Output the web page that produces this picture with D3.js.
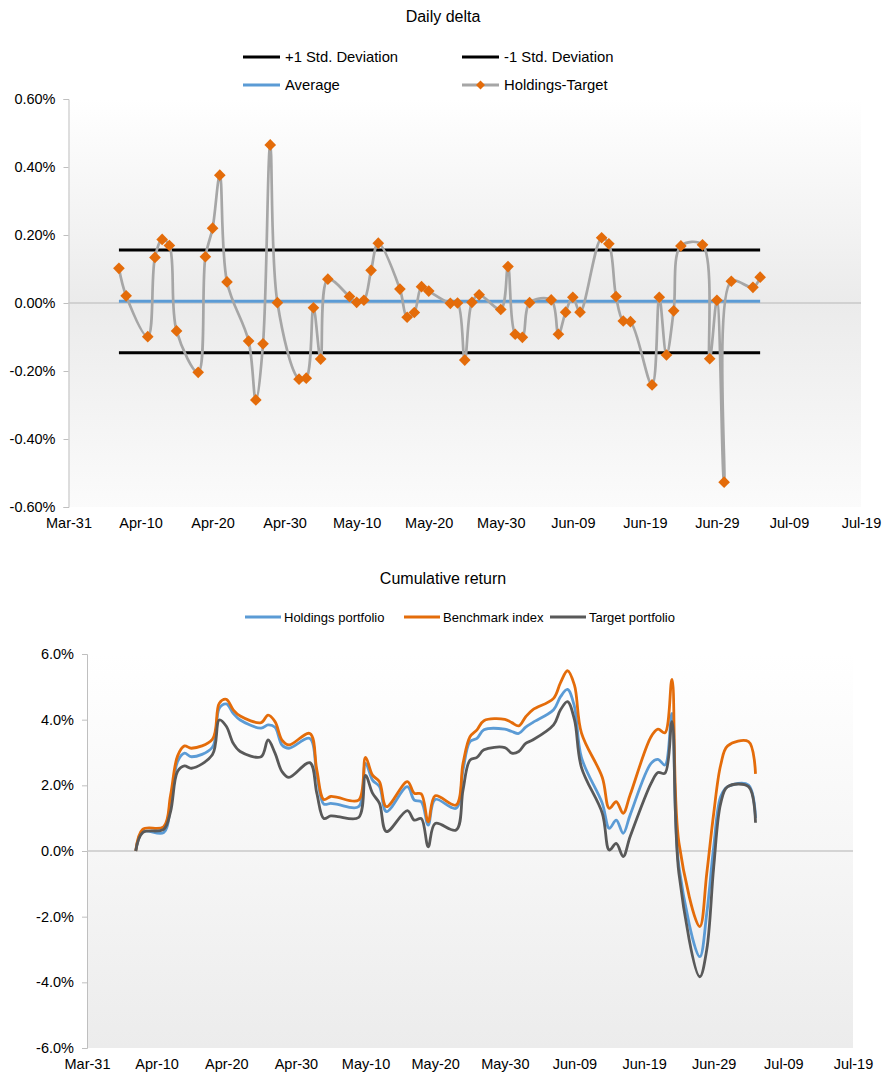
<!DOCTYPE html>
<html>
<head>
<meta charset="utf-8">
<script src="https://cdn.jsdelivr.net/npm/d3@7"></script>
<style>
  body { margin: 0; background: #fff; }
  svg { font-family: "Liberation Sans", Arial, sans-serif; }
</style>
</head>
<body>
<svg id="chart" width="887" height="1076"></svg>
<script>
// trading days (2016)
const days = [
  '04-07','04-08','04-11','04-12','04-13','04-14','04-15','04-18','04-19','04-20','04-21','04-22',
  '04-25','04-26','04-27','04-28','04-29','05-02','05-03','05-04','05-05','05-06','05-09','05-10',
  '05-11','05-12','05-13','05-16','05-17','05-18','05-19','05-20','05-23','05-24','05-25','05-26',
  '05-27','05-30','05-31','06-01','06-02','06-03','06-06','06-07','06-08','06-09','06-10','06-13',
  '06-14','06-15','06-16','06-17','06-20','06-21','06-22','06-23','06-24','06-27','06-28','06-29',
  '06-30','07-01','07-04','07-05'
];

// daily delta, Holdings-Target (%)
const delta = [
  0.102, 0.021, -0.099, 0.134, 0.187, 0.169, -0.082, -0.204, 0.136, 0.220, 0.376, 0.062,
  -0.112, -0.285, -0.120, 0.465, 0.001, -0.224, -0.221, -0.014, -0.165, 0.070, 0.019, 0.002,
  0.008, 0.096, 0.176, 0.041, -0.042, -0.028, 0.048, 0.035, -0.001, 0.000, -0.168, 0.002,
  0.024, -0.019, 0.107, -0.092, -0.101, 0.001, 0.009, -0.092, -0.027, 0.017, -0.027, 0.192,
  0.174, 0.019, -0.053, -0.055, -0.241, 0.017, -0.153, -0.023, 0.168, 0.171, -0.164, 0.008,
  -0.527, 0.064, 0.046, 0.076
];
const average = 0.005;
const stdPlus = 0.156;
const stdMinus = -0.146;

// cumulative return (%)
const holdings = [
  0, 0.59, 0.56, 1.4, 2.72, 2.98, 2.87, 3.16, 4.35, 4.48, 4.19, 3.99,
  3.74, 3.84, 3.77, 3.23, 3.13, 3.43, 2.31, 1.43, 1.45, 1.42, 1.35, 2.67,
  2.16, 1.96, 1.2, 1.96, 1.55, 1.5, 0.79, 1.57, 1.3, 2.47, 3.33, 3.43,
  3.69, 3.71, 3.64, 3.58, 3.77, 3.91, 4.3, 4.7, 4.92, 4.4, 2.85, 1.45,
  0.69, 0.94, 0.54, 1.1, 2.67, 2.79, 2.62, 4.19, -0.48, -3.22, -1.9, 0.13,
  1.66, 1.96, 2.01, 1.0
];
const benchmark = [
  0, 0.66, 0.74, 1.7, 2.89, 3.2, 3.13, 3.4, 4.5, 4.62, 4.3, 4.11,
  3.91, 4.14, 3.94, 3.38, 3.23, 3.58, 2.47, 1.57, 1.66, 1.63, 1.55, 2.85,
  2.31, 2.11, 1.35, 2.11, 1.76, 1.74, 0.89, 1.68, 1.4, 2.67, 3.48, 3.69,
  3.97, 4.01, 3.91, 3.81, 4.09, 4.3, 4.65, 5.13, 5.49, 5.05, 3.6, 2.24,
  1.3, 1.5, 1.15, 1.71, 3.48, 3.71, 3.6, 5.23, 0.25, -2.3, -0.68, 1.15,
  2.62, 3.2, 3.33, 2.35
];
const target = [
  0, 0.56, 0.66, 1.2, 2.42, 2.59, 2.52, 2.93, 3.99, 3.8, 3.28, 3.03,
  2.87, 3.38, 2.98, 2.42, 2.24, 2.69, 1.76, 0.99, 1.07, 1.05, 1.02, 2.3,
  1.76, 1.45, 0.59, 1.23, 0.94, 0.99, 0.13, 0.84, 0.64, 1.86, 2.77, 2.85,
  3.08, 3.15, 2.98, 3.03, 3.28, 3.38, 3.84, 4.3, 4.55, 4.0, 2.55, 1.15,
  0.03, 0.23, -0.17, 0.44, 2.06, 2.39, 2.37, 3.94, -0.68, -3.83, -3.0, -0.48,
  1.45, 1.96, 1.96, 0.86
];

const xTickLabels = ['Mar-31','Apr-10','Apr-20','Apr-30','May-10','May-20','May-30','Jun-09','Jun-19','Jun-29','Jul-09','Jul-19'];
const deltaTicks = [-0.6, -0.4, -0.2, 0, 0.2, 0.4, 0.6];
const cumTicks = [-6, -4, -2, 0, 2, 4, 6];

const parseDay = d3.timeParse('%Y-%m-%d');
const parseTick = d3.timeParse('%Y-%b-%d');
const dates = days.map(d => parseDay('2016-' + d));
const tickDates = xTickLabels.map(s => parseTick('2016-' + s));

const ORANGE = '#e46c0a', BLUE = '#5b9bd5', DARK = '#595959', LGRAY = '#a6a6a6';

const svg = d3.select('#chart');
const defs = svg.append('defs');

function gradient(id, stops) {
  const g = defs.append('linearGradient').attr('id', id)
    .attr('x1', 0).attr('y1', 0).attr('x2', 0).attr('y2', 1);
  stops.forEach(s => g.append('stop').attr('offset', s[0]).attr('stop-color', s[1]));
}
gradient('bgTop', [[0, '#ffffff'], [0.5, '#ebebeb'], [1, '#fbfbfb']]);
gradient('bgBot', [[0, '#ffffff'], [0.5, '#f6f6f6'], [1, '#ececec']]);

function panel(opt) {
  const x = d3.scaleTime().domain([tickDates[0], tickDates[tickDates.length - 1]]).range(opt.xr);
  const y = d3.scaleLinear().domain([opt.yTicks[0], opt.yTicks[opt.yTicks.length - 1]]).range(opt.yr);

  svg.append('rect')
    .attr('x', opt.xr[0]).attr('y', opt.yr[1])
    .attr('width', opt.xr[1] - opt.xr[0]).attr('height', opt.yr[0] - opt.yr[1])
    .attr('fill', 'url(#' + opt.bg + ')');

  // y axis
  const yAxis = svg.append('g')
    .attr('transform', 'translate(' + opt.xr[0] + ',0)')
    .call(d3.axisLeft(y).tickValues(opt.yTicks).tickSize(5).tickPadding(8).tickFormat(opt.fmt));
  yAxis.select('.domain').attr('stroke', '#bfbfbf');
  yAxis.selectAll('.tick line').attr('stroke', '#bfbfbf');
  yAxis.selectAll('text').attr('font-size', 14.5).attr('fill', '#000');

  // zero line (category axis crosses here)
  svg.append('line')
    .attr('x1', opt.xr[0]).attr('x2', opt.xr[1])
    .attr('y1', y(0)).attr('y2', y(0))
    .attr('stroke', '#c8c8c8').attr('stroke-width', 1.5);

  // x labels at bottom
  const xAxis = svg.append('g')
    .attr('transform', 'translate(0,' + opt.yr[0] + ')')
    .call(d3.axisBottom(x).tickValues(tickDates).tickSize(0).tickPadding(opt.xPad)
      .tickFormat((d, i) => xTickLabels[i]));
  xAxis.select('.domain').remove();
  xAxis.selectAll('text').attr('font-size', 14.5).attr('fill', '#000');

  svg.append('text')
    .attr('x', opt.titleX).attr('y', opt.titleY)
    .attr('text-anchor', 'middle').attr('font-size', 16)
    .text(opt.title);

  return { x, y };
}

// ---------- Daily delta ----------
const topSc = panel({
  xr: [68.5, 861], yr: [507, 99], yTicks: deltaTicks, bg: 'bgTop',
  fmt: d => d.toFixed(2) + '%', xPad: 11, title: 'Daily delta', titleX: 443, titleY: 22
});

const line = (sc, vals) => d3.line()
  .x((d, i) => sc.x(dates[i]))
  .y(d => sc.y(d))
  .curve(d3.curveCatmullRom.alpha(0.5))(vals);

const flatLine = (sc, v) => d3.line()
  .x(d => sc.x(d[0])).y(d => sc.y(d[1]))([[dates[0], v], [dates[dates.length - 1], v]]);

svg.append('path').attr('d', flatLine(topSc, average))
  .attr('fill', 'none').attr('stroke', BLUE).attr('stroke-width', 3);
svg.append('path').attr('d', flatLine(topSc, stdPlus))
  .attr('fill', 'none').attr('stroke', '#000').attr('stroke-width', 3);
svg.append('path').attr('d', flatLine(topSc, stdMinus))
  .attr('fill', 'none').attr('stroke', '#000').attr('stroke-width', 3);

svg.append('path').attr('d', line(topSc, delta))
  .attr('fill', 'none').attr('stroke', LGRAY).attr('stroke-width', 2.7);

svg.append('g').selectAll('path')
  .data(delta)
  .join('path')
  .attr('d', d3.symbol().type(d3.symbolSquare).size(68))
  .attr('transform', (d, i) => 'translate(' + topSc.x(dates[i]) + ',' + topSc.y(d) + ') rotate(45)')
  .attr('fill', ORANGE);

// legend (top)
const legTop = [
  { label: '+1 Std. Deviation', color: '#000', x: 243, y: 57 },
  { label: '-1 Std. Deviation', color: '#000', x: 462, y: 57 },
  { label: 'Average', color: BLUE, x: 243, y: 85 },
  { label: 'Holdings-Target', color: LGRAY, x: 462, y: 85, marker: true }
];
legTop.forEach(l => {
  svg.append('line').attr('x1', l.x).attr('x2', l.x + 37).attr('y1', l.y).attr('y2', l.y)
    .attr('stroke', l.color).attr('stroke-width', 3);
  if (l.marker) {
    svg.append('path').attr('d', d3.symbol().type(d3.symbolSquare).size(40))
      .attr('transform', 'translate(' + (l.x + 18.5) + ',' + l.y + ') rotate(45)')
      .attr('fill', ORANGE);
  }
  svg.append('text').attr('x', l.x + 42).attr('y', l.y + 5)
    .attr('font-size', 14.8).text(l.label);
});

// ---------- Cumulative return ----------
const botSc = panel({
  xr: [87, 853], yr: [1048, 654], yTicks: cumTicks, bg: 'bgBot',
  fmt: d => d.toFixed(1) + '%', xPad: 11, title: 'Cumulative return', titleX: 443, titleY: 584
});

[[holdings, BLUE], [benchmark, ORANGE], [target, DARK]].forEach(s => {
  svg.append('path').attr('d', line(botSc, s[0]))
    .attr('fill', 'none').attr('stroke', s[1]).attr('stroke-width', 2.8);
});

const legBot = [
  { label: 'Holdings portfolio', color: BLUE, x: 245 },
  { label: 'Benchmark index', color: ORANGE, x: 404 },
  { label: 'Target portfolio', color: DARK, x: 550 }
];
legBot.forEach(l => {
  svg.append('line').attr('x1', l.x).attr('x2', l.x + 36).attr('y1', 617).attr('y2', 617)
    .attr('stroke', l.color).attr('stroke-width', 3);
  svg.append('text').attr('x', l.x + 39).attr('y', 621.5)
    .attr('font-size', 13).text(l.label);
});
</script>
</body>
</html>
